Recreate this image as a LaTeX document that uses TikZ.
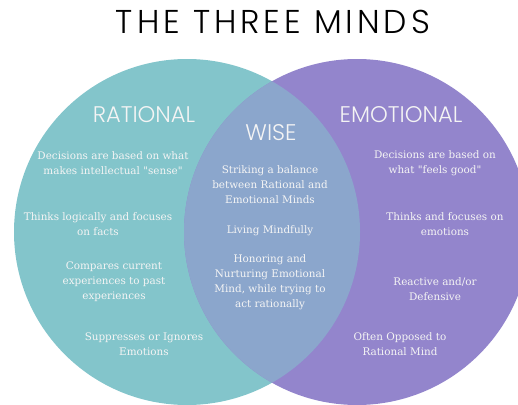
\documentclass[tikz,border=0pt]{standalone}
\usepackage{fontspec}
\newfontfamily\bodyfont{DejaVu Serif}
\IfFontExistsTF{Poppins Light}{\newfontfamily\headfont{Poppins Light}}{\newfontfamily\headfont{Poppins}}
\definecolor{teal}{HTML}{83C5CB}
\definecolor{purp}{HTML}{9385CC}
\definecolor{lens}{HTML}{8BA6CC}
\definecolor{txt}{HTML}{F4F4F4}
\begin{document}
\begin{tikzpicture}[x=1pt,y=-1pt,
  body/.style={text=txt,align=center,font=\bodyfont\fontsize{10.4}{15}\selectfont,inner sep=0pt},
  head/.style={text=txt,inner sep=0pt,font=\headfont\fontsize{22.6}{24}\selectfont},
  title/.style={text=black,inner sep=0pt,font=\headfont\fontsize{33}{33}\selectfont\addfontfeatures{LetterSpace=12}}]
\clip (0,0) rectangle (518,404);
\coordinate (cl) at (187,232);
\coordinate (cr) at (357,232);
\fill[teal] (cl) circle (173pt);
\fill[purp] (cr) circle (173pt);
\begin{scope}
\clip (cl) circle (173pt);
\fill[lens] (cr) circle (173pt);
\end{scope}
\node[title] (t) at (273,22) {THE THREE MINDS};
\node[head] (hr) at (144,115) {RATIONAL};
\node[head] (hw) at (271,133) {WISE};
\node[head] (he) at (401,115) {EMOTIONAL};
\node[body] (r1) at (113,163) {Decisions are based on what\\makes intellectual "sense"};
\node[body] (r2) at (98,224) {Thinks logically and focuses\\on facts};
\node[body] (r3) at (114,282) {Compares current\\experiences to past\\experiences};
\node[body] (r4) at (144,344) {Suppresses or Ignores\\Emotions};
\node[body] (w1) at (270,185) {Striking a balance\\between Rational and\\Emotional Minds};
\node[body] (w2) at (270,231) {Living Mindfully};
\node[body] (w3) at (270,282) {Honoring and\\Nurturing Emotional\\Mind, while trying to\\act rationally};
\node[body] (e1) at (435,163) {Decisions are based on\\what "feels good"};
\node[body] (e2) at (445,224) {Thinks and focuses on\\emotions};
\node[body] (e3) at (435,289) {Reactive and/or\\Defensive};
\node[body] (e4) at (400,344) {Often Opposed to\\Rational Mind};
\end{tikzpicture}
\end{document}
